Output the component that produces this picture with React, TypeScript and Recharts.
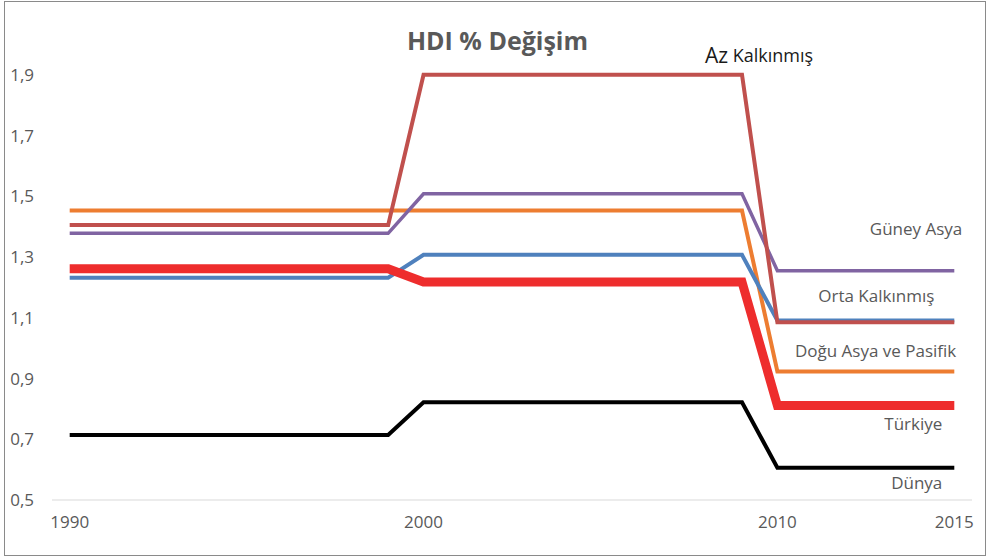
import React from "react";
import { LineChart, Line, XAxis, YAxis, LabelList } from "recharts";

const years = [1990, 1999, 2000, 2009, 2010, 2015];
const azKalkinmis = [1.405, 1.405, 1.9, 1.9, 1.085, 1.085];
const doguAsya = [1.453, 1.453, 1.453, 1.453, 0.923, 0.923];
const guneyAsya = [1.378, 1.378, 1.508, 1.508, 1.255, 1.255];
const ortaKalkinmis = [1.232, 1.232, 1.307, 1.307, 1.091, 1.091];
const turkiye = [1.261, 1.261, 1.218, 1.218, 0.811, 0.811];
const dunya = [0.714, 0.714, 0.822, 0.822, 0.606, 0.606];

const xTicks = [1990, 2000, 2010, 2015];
const yTicks = [0.5, 0.7, 0.9, 1.1, 1.3, 1.5, 1.7, 1.9];

const data = years.map((y, i) => ({
  year: y,
  az: azKalkinmis[i],
  dogu: doguAsya[i],
  guney: guneyAsya[i],
  orta: ortaKalkinmis[i],
  tr: turkiye[i],
  dunya: dunya[i],
}));

const FONT = "'Open Sans', 'Liberation Sans', sans-serif";
const GRAY = "#595959";

const makeLabel = (text: string, idx: number, dx: number, dy: number) => (props: any) => {
  if (props.index !== idx) return null;
  return (
    <text
      x={props.x + dx}
      y={props.y + dy}
      textAnchor="end"
      dominantBaseline="middle"
      fontFamily={FONT}
      fontSize={17}
      fill={GRAY}
    >
      {text}
    </text>
  );
};

const azLabel = (props: any) => {
  if (props.index !== 3) return null;
  return (
    <text
      x={props.x + 17}
      y={props.y - 18}
      textAnchor="middle"
      dominantBaseline="middle"
      fontFamily={FONT}
      fill="#1a1a1a"
    >
      <tspan fontSize={21}>Az</tspan>
      <tspan fontSize={18}> Kalkınmış</tspan>
    </text>
  );
};

export default function App() {
  return (
    <div
      style={{
        position: "absolute",
        left: 0,
        top: 0,
        width: 987,
        height: 557,
        background: "#fff",
      }}
    >
      <div
        style={{
          position: "absolute",
          left: 4,
          top: 1,
          width: 982,
          height: 555,
          border: "1px solid #8a8a8a",
          boxSizing: "border-box",
        }}
      />
      <div
        style={{
          position: "absolute",
          left: 0,
          width: 987,
          top: 24,
          textAlign: "center",
          paddingLeft: 8,
          boxSizing: "border-box",
          fontFamily: FONT,
          fontWeight: 700,
          fontSize: 25,
          color: GRAY,
          lineHeight: "32px",
        }}
      >
        HDI % Değişim
      </div>
      <div style={{ position: "absolute", left: 0, top: 0 }}>
        <LineChart
          width={987}
          height={557}
          data={data}
          margin={{ top: 14, right: 15, bottom: 27, left: 0 }}
        >
          <XAxis
            dataKey="year"
            type="number"
            domain={[1989.5, 2015.5]}
            ticks={xTicks}
            tickLine={false}
            axisLine={{ stroke: "#d9d9d9" }}
            tick={{ fill: GRAY, fontSize: 17, fontFamily: FONT }}
            tickMargin={10}
            interval={0}
          />
          <YAxis
            type="number"
            domain={[0.5, 2.1]}
            ticks={yTicks}
            width={52}
            tickLine={false}
            axisLine={false}
            tick={{ fill: GRAY, fontSize: 17, fontFamily: FONT }}
            tickFormatter={(v: number) => v.toFixed(1).replace(".", ",")}
            tickMargin={12}
            interval={0}
          />
          <Line
            dataKey="dunya"
            stroke="#000000"
            strokeWidth={4}
            dot={false}
            isAnimationActive={false}
          >
            <LabelList dataKey="dunya" content={makeLabel("Dünya", 5, -12, 17)} />
          </Line>
          <Line
            dataKey="dogu"
            stroke="#ED7D31"
            strokeWidth={4}
            dot={false}
            isAnimationActive={false}
          >
            <LabelList dataKey="dogu" content={makeLabel("Doğu Asya ve Pasifik", 5, 2, -19)} />
          </Line>
          <Line
            dataKey="guney"
            stroke="#8064A2"
            strokeWidth={3.5}
            dot={false}
            isAnimationActive={false}
          >
            <LabelList dataKey="guney" content={makeLabel("Güney Asya", 5, 8, -40)} />
          </Line>
          <Line
            dataKey="orta"
            stroke="#4F81BD"
            strokeWidth={4}
            dot={false}
            isAnimationActive={false}
          >
            <LabelList dataKey="orta" content={makeLabel("Orta Kalkınmış", 5, -20, -23)} />
          </Line>
          <Line
            dataKey="az"
            stroke="#C0504D"
            strokeWidth={4}
            dot={false}
            isAnimationActive={false}
          >
            <LabelList dataKey="az" content={azLabel} />
          </Line>
          <Line
            dataKey="tr"
            stroke="#EE2D2D"
            strokeWidth={9}
            dot={false}
            isAnimationActive={false}
          >
            <LabelList dataKey="tr" content={makeLabel("Türkiye", 5, -12, 20)} />
          </Line>
        </LineChart>
      </div>
    </div>
  );
}
